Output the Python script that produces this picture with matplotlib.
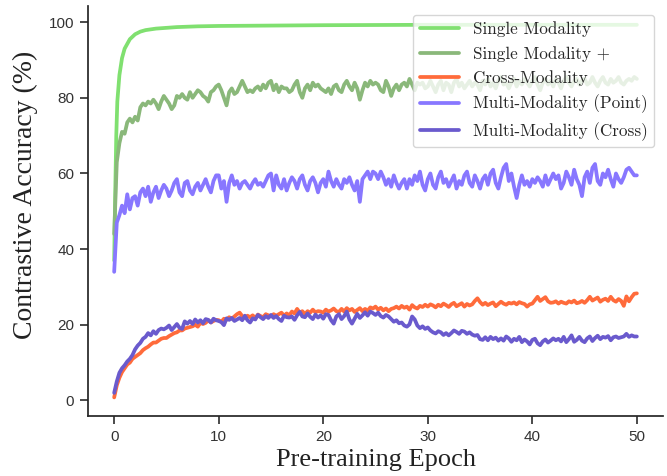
import numpy as np
import matplotlib.pyplot as plt
import seaborn as sns

# Single Modality is smooth, so a few points are enough
epochs_single = [0, 0.1, 0.2, 0.3, 0.5, 0.75, 1, 1.5, 2, 2.5, 3, 4, 5, 6, 8, 10, 15, 20, 30, 40, 50]
single = [37, 55, 70, 79, 86, 90.5, 93, 95.5, 96.8, 97.5, 97.9, 98.3, 98.5, 98.7, 98.9, 99.0, 99.1, 99.2, 99.3, 99.3, 99.3]

# the noisy curves: one value every quarter epoch, 0 .. 50
epochs = np.arange(0, 50.01, 0.25)

single_plus = [
    44, 63, 68, 71, 70.5, 73.5, 74.5, 73.5, 75, 74, 77.5, 78.5, 78, 79, 78.5, 79.5, 78.5, 77, 79, 80.5,
    79.5, 78.5, 77, 78, 80.5, 80, 81, 80, 79.5, 81.5, 80, 81, 82, 81.5, 80.5, 80, 79, 81.5, 82, 83,
    83.5, 82, 80, 78, 81.5, 82.5, 81, 81.5, 83, 84.5, 83, 81.5, 82, 81.5, 82.5, 83, 82, 83.5, 82.5, 84,
    84.5, 82, 83.5, 81.5, 83, 82.5, 82.5, 81.5, 82, 83.5, 84.5, 81.5, 80, 82.5, 83.5, 82, 84, 83, 83.5, 82.5,
    82, 81.5, 82.5, 81, 83, 83.5, 82, 81.5, 83.5, 84.5, 83, 82, 84, 82.5, 79.5, 82, 84, 83, 84.5, 83.5,
    84, 83.5, 82, 81.5, 84.5, 83, 80.5, 82.5, 83.5, 82, 83.5, 84, 83, 85, 83.5, 82, 84, 83.5, 84, 82.5,
    83, 84.5, 83, 81.5, 83.5, 84.5, 82, 84, 83.5, 81.5, 84, 85, 83, 84, 82.5, 83.5, 84.5, 83, 84, 83.5,
    82, 84.5, 83.5, 85, 83, 84, 82.5, 84.5, 85.5, 83.5, 84, 82.5, 84, 85, 83, 84.5, 83.5, 85, 84, 83,
    84.5, 85.5, 83.5, 82, 84, 85, 83.5, 84.5, 83, 85, 84, 82.5, 84.5, 85.5, 84, 83, 84.5, 85, 83.5, 84.5,
    85, 83.5, 84, 85.5, 84, 83, 84.5, 85.5, 84, 83.5, 85, 84, 84.5, 85.5, 84, 83.5, 84.5, 85, 84.5, 85.5,
    85]

cross = [
    0.8, 4, 6, 7.5, 8.5, 9.5, 10, 11, 11.5, 12, 12.5, 13.3, 13.8, 14.2, 14.8, 15.3, 15.3, 15.8, 16.3, 16.5,
    16.5, 17, 17.4, 17.8, 18, 18.5, 18.5, 19, 19.2, 19.4, 19.6, 20, 19.5, 20.5, 20.2, 20.5, 21.2, 20.6, 21, 21.3,
    21.2, 20.8, 21.6, 21.3, 22, 21.6, 22.2, 22.8, 23.2, 22.3, 21.8, 22.4, 22, 22.5, 21.8, 22.7, 22.3, 22, 22.8, 22.5,
    22.2, 22.8, 22.4, 22.8, 23.2, 22.4, 23, 22.5, 23.5, 23, 24.2, 23.2, 23.6, 22.8, 23.6, 23.2, 24, 23.3, 23.6, 23.5,
    23.2, 24, 23.5, 23.8, 24.3, 23.6, 23.4, 24.2, 23.5, 24.4, 23.8, 24.2, 23.4, 23.9, 24.4, 23.6, 24.2, 23.7, 24.6, 24.3,
    24.8, 24, 24.5, 23.8, 24.3, 23.6, 24.2, 24.4, 24.8, 24.3, 25, 24.5, 24.8, 24, 25.2, 24.6, 24.3, 25, 24.7, 25.3,
    24.8, 25.4, 25.1, 24.6, 25.3, 24.9, 25.6, 25.2, 24.7, 25.4, 25.8, 24.9, 25.3, 25.7, 24.8, 25.5, 25.1, 25.4, 26.3, 27,
    26, 25.3, 25.8, 25.2, 25.6, 25.9, 24.9, 25.5, 26.1, 25.6, 25.3, 25.8, 25.6, 25.9, 25.4, 26, 25.7, 25.5, 24.8, 25.4,
    25.6, 26.5, 27.4, 26.3, 26.8, 27.3, 26.2, 25.8, 25.9, 26.2, 25.6, 26.1, 25.8, 25.6, 26.2, 25.9, 26.4, 25.7, 25.9, 26.3,
    25.8, 26.5, 27.4, 26.4, 26.8, 27.2, 26.1, 26.6, 26.9, 26.3, 27.4, 26.5, 26.1, 26.8, 26.3, 25, 27.5, 26.2, 27.3, 28.2,
    28.3]

multi_point = [
    34, 47, 49, 51.5, 49.5, 54.5, 50.5, 53.5, 54, 51.5, 55, 56, 54, 56.5, 52.5, 55, 56.5, 53.5, 55.5, 57,
    56, 54, 55.5, 57.5, 58.5, 55, 54, 57.5, 58, 55.5, 54.5, 56.5, 57.5, 55.5, 57, 58.5, 56.5, 55, 58, 59.5,
    59.5, 56, 58, 52.5, 57.5, 59.5, 57, 58, 56, 57.5, 58, 57, 56, 57.5, 58.5, 57, 57.5, 56.5, 58, 59.5,
    60, 55.5, 59.5, 57, 56, 58.5, 55.5, 57.5, 59, 58, 56, 58.5, 59.5, 57, 55.5, 58, 59, 57.5, 55, 57.5,
    58.5, 56.5, 60.5, 58, 56.5, 58.5, 57, 56, 58.5, 57.5, 59, 57, 55.5, 58, 52.5, 58.5, 59.5, 60.5, 58.5, 60.5,
    60, 58.5, 60.5, 59, 57, 58.5, 56.5, 59.5, 57.5, 56, 57.5, 58.5, 56, 58.5, 57, 59.5, 58, 60.5, 57, 55.5,
    58.5, 60, 57, 56, 59, 60.5, 57.5, 58.5, 56.5, 58, 59.5, 56, 58, 57, 59.5, 60.5, 57.5, 56.5, 59.5, 58,
    56, 58.5, 59.5, 57, 60, 61, 57.5, 56, 59, 61.5, 62.5, 58, 60, 56.5, 53.5, 57, 59.5, 57, 58, 56.5,
    58.5, 57.5, 59, 58, 56.5, 59.5, 57, 58.5, 60, 58.5, 59.5, 56, 57.5, 60.5, 59, 57, 61, 58.5, 57, 54,
    59, 60.5, 57.5, 61.5, 62.5, 58, 57, 60, 59, 61, 58.5, 56.5, 60, 58.5, 57.5, 59, 61, 61.5, 60.5, 59.5,
    59.5]

multi_cross = [
    2, 5, 7.3, 8.5, 9.3, 10.3, 11, 12, 13.5, 14.5, 15.2, 16.3, 16.8, 17.8, 17.2, 18.3, 17.6, 18.6, 19, 18.8,
    19.2, 19.8, 18.6, 19.4, 20.2, 19.2, 18.9, 20.9, 20.3, 21, 20.2, 21.4, 20.6, 21.2, 20.4, 21.5, 21.3, 20.6, 21.6, 21.2,
    21, 20.7, 19.9, 21.7, 21.3, 21.8, 21, 21.4, 21.8, 21.2, 22.4, 21.2, 20.6, 21.7, 21.4, 22.6, 22, 21.5, 22.3, 21.8,
    22.6, 21.8, 22.3, 21.5, 21, 22.4, 22, 21.9, 22.2, 21.3, 22.5, 23.4, 22.2, 22, 23, 22.1, 21.5, 22.7, 21.9, 22.5,
    21.6, 22.8, 22.6, 21.2, 20.3, 22.2, 22.8, 21.5, 22.3, 23.5, 21.4, 20.3, 21.6, 22.9, 21.8, 22.5, 23.3, 22.4, 23.5, 23.1,
    22.6, 23.2, 22.3, 21.9, 22.6, 22.2, 21.5, 20.8, 21.2, 20.4, 20.6, 19.8, 19.5, 20.1, 22.2, 21.4, 19.8, 19.1, 19.6, 18.9,
    19.3, 18.5, 18, 17.7, 18.3, 18, 17.3, 17.8, 17.2, 17.8, 18.5, 18.1, 17.6, 18.4, 18.2, 17.6, 18, 17.4, 17.1, 17.3,
    16.2, 16, 16.7, 15.9, 16.8, 16.2, 16.6, 15.8, 16.4, 15.8, 16.9, 16.4, 15.5, 16.3, 15.9, 16.8, 15.4, 16.1, 15.6, 14.8,
    16, 16.3, 15.1, 14.6, 15.6, 16.1, 15.3, 15.8, 16.4, 15.9, 16.3, 15.6, 16.8, 15.4, 16.2, 17.2, 15.5, 16, 16.8, 15.8,
    15.4, 16.4, 16.9, 15.7, 16.5, 17.1, 16.2, 16.8, 16.6, 17, 15.9, 16.7, 16.9, 16.5, 16.7, 16.9, 17.6, 16.8, 17.2, 16.9,
    16.9]

sns.set_style('ticks')
plt.rcParams['font.family'] = ['Liberation Sans', 'DejaVu Sans']

fig = plt.figure(figsize=(6.67, 4.76), dpi=100)
ax = fig.add_axes([0.132, 0.126, 0.862, 0.861])

lw = 2.7
ax.plot(epochs_single, single, color='#80e070', lw=lw, label='Single Modality')
ax.plot(epochs, single_plus, color='#8ab87a', lw=lw, label='Single Modality +')
ax.plot(epochs, cross, color='#ff6b3b', lw=lw, label='Cross-Modality')
ax.plot(epochs, multi_point, color='#8877ff', lw=lw, label='Multi-Modality (Point)')
ax.plot(epochs, multi_cross, color='#6a5acd', lw=lw, label='Multi-Modality (Cross)')

ax.set_xticks([0, 10, 20, 30, 40, 50])
ax.set_yticks([0, 20, 40, 60, 80, 100])
ax.tick_params(direction='out', length=6, width=1.25, labelsize=11, colors='#333333', pad=4)
for s in ax.spines.values():
    s.set_linewidth(1.25)
    s.set_color('#262626')
ax.set_xlabel('Pre-training Epoch', family='Liberation Serif', fontsize=19, color='#222222')
ax.set_ylabel('Contrastive Accuracy (%)', family='Liberation Serif', fontsize=20, color='#222222')
ax.yaxis.set_label_coords(-0.087, 0.539)

ax.legend(loc='upper right', prop={'family': 'cmr10', 'size': 12.3}, handlelength=2.3)
sns.despine(ax=ax)

fig.savefig('out.png', dpi=100)
